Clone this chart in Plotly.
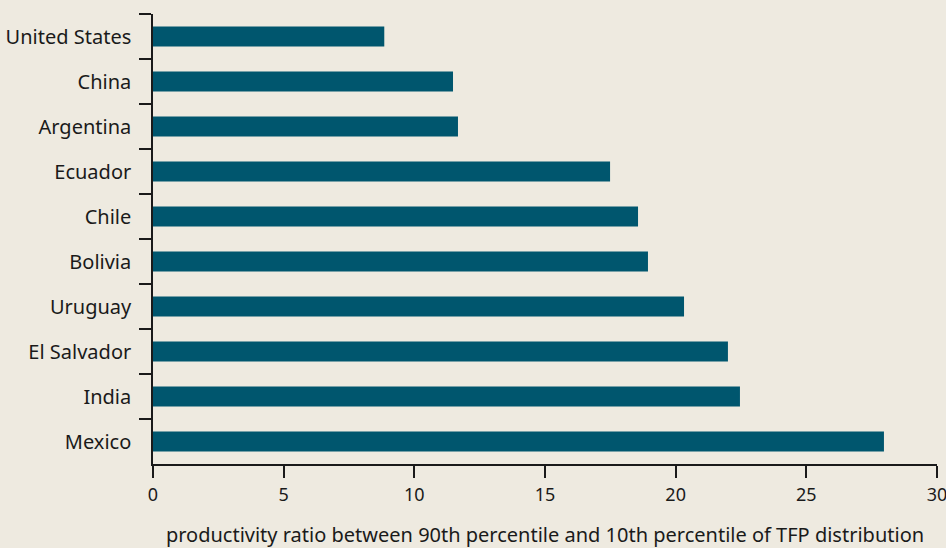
import plotly.graph_objects as go

countries = ["United States", "China", "Argentina", "Ecuador", "Chile", "Bolivia",
             "Uruguay", "El Salvador", "India", "Mexico"]
ratios = [8.85, 11.48, 11.67, 17.49, 18.56, 18.94, 20.32, 22.0, 22.46, 27.97]
x_ticks = [0, 5, 10, 15, 20, 25, 30]

BG = "#EEEAE0"
BAR = "#00566E"
FONT = "Noto Sans"

fig = go.Figure(go.Bar(
    x=ratios, y=countries, orientation="h",
    marker=dict(color=BAR, line=dict(width=0)),
    width=0.44,
))

fig.update_layout(
    width=946, height=548,
    paper_bgcolor=BG, plot_bgcolor=BG,
    margin=dict(l=153, r=9, t=14, b=84),
    font=dict(family=FONT, size=20, color="#1a1a1a"),
    showlegend=False,
)
fig.update_xaxes(
    range=[0, 30], tickvals=x_ticks, ticktext=[str(v) for v in x_ticks],
    tickfont=dict(size=18), ticklabeloverflow="allow", ticklabelstandoff=2,
    automargin=False,
    showgrid=False, zeroline=False,
    showline=True, linecolor="#1a1a1a", linewidth=1.5,
    ticks="outside", ticklen=12, tickwidth=1.5, tickcolor="#1a1a1a",
    title=dict(text="productivity ratio between 90th percentile and 10th percentile of TFP distribution",
               standoff=33, font=dict(size=20)),
)
fig.update_yaxes(
    categoryorder="array", categoryarray=countries, autorange=False,
    range=[len(countries) - 0.5, -0.5],
    automargin=False,
    showgrid=False, zeroline=False,
    showline=True, linecolor="#1a1a1a", linewidth=1.5,
    ticks="outside", ticklen=12, tickwidth=1.5, tickcolor="#1a1a1a",
    tickson="boundaries", ticklabelstandoff=16,
)

fig.write_html(
    "out.html",
    config={"displayModeBar": False},
    post_script="document.body.style.margin='0';document.body.style.overflow='hidden';",
)
